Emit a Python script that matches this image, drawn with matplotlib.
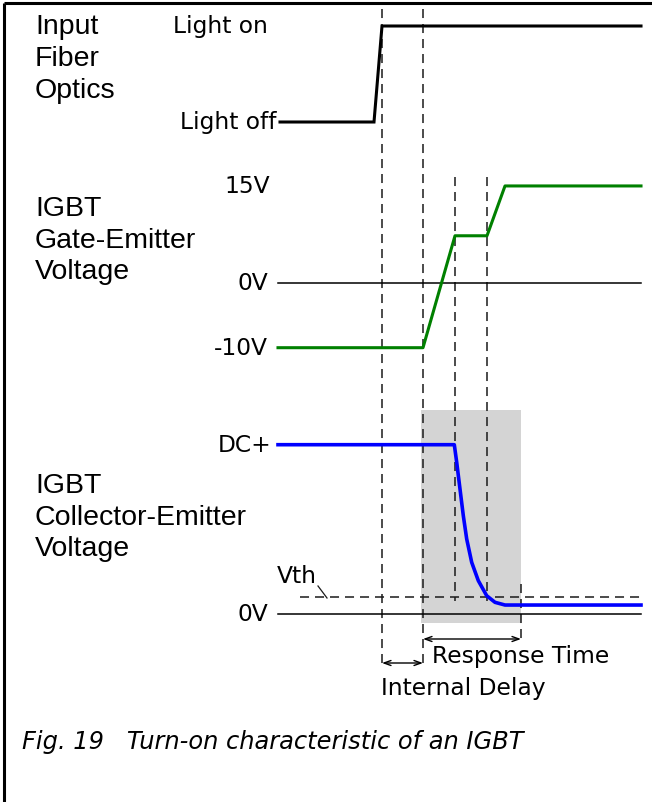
import matplotlib
matplotlib.use("Agg")
import matplotlib.pyplot as plt

plt.rcParams['lines.scale_dashes'] = False

# ---------------- data ----------------
# time axis (arbitrary units, left to right)
fiber_t = [280, 374, 382, 641]
fiber_state = [0, 0, 1, 1]            # 0 = light off, 1 = light on

gate_t = [278, 423, 455, 487, 505, 641]
gate_v = [-10, -10, 7.3, 7.3, 15, 15]  # volts

ce_t = [278, 454.3, 456.7, 460, 463.3, 466.7, 471.7, 478.3, 486.7, 495, 505, 641]
ce_v = [1.0, 1.0, 0.896, 0.738, 0.581, 0.443, 0.305, 0.197, 0.108, 0.069, 0.053, 0.053]
vth_level = 0.10

t_light = 382      # light switched on
t_gate_start = 423 # gate begins to rise
t_plateau_a = 455
t_plateau_b = 487
t_response_end = 521

fiber_labels = ["Light on", "Light off"]
gate_labels = ["15V", "0V", "-10V"]
gate_label_values = [15, 0, -10]
ce_labels = ["DC+", "0V"]
ce_label_values = [1.0, 0.0]

panel_titles = [["Input", "Fiber", "Optics"],
                ["IGBT", "Gate-Emitter", "Voltage"],
                ["IGBT", "Collector-Emitter", "Voltage"]]
caption = "Fig. 19   Turn-on characteristic of an IGBT"

# ---------------- figure ----------------
W, H = 652, 803
fig = plt.figure(figsize=(W / 100, H / 100), dpi=100)

def full_axes(ylim):
    ax = fig.add_axes([0, 0, 1, 1])
    ax.set_xlim(0, W)
    ax.set_ylim(*ylim)
    ax.axis("off")
    ax.patch.set_alpha(0)
    return ax

# overlay axes in pixel units for annotation layout
ax = full_axes((H, 0))
# per-panel axes with their own vertical scales
ax_f = full_axes(((123 - H) / 96, 123 / 96))
ax_g = full_axes(((284 - H) / 6.47, 284 / 6.47))
ax_c = full_axes(((615 - H) / 169.3, 615 / 169.3))

tahoma = ["DejaVu Sans"]
arial = ["Liberation Sans"]
fs_val = 16.8
fs_lab = 20.5
dash = (0, (6.5, 4.3))
dcol = "#1a1a1a"

# frame
ax.plot([4, W], [4, 4], color="black", lw=2.2, solid_capstyle="butt")
ax.plot([4, 4], [4, H], color="black", lw=2.2, solid_capstyle="butt")

# shaded response window
ax.fill_between([t_gate_start - 2, t_response_end], 411, 624, color="#d4d4d4", lw=0, zorder=0)

# vertical dashed guides
for t, y0, y1 in [(t_light, 10, 667), (t_gate_start, 10, 667),
                  (t_plateau_a, 178, 602), (t_plateau_b, 178, 602),
                  (t_response_end, 585, 643)]:
    ax.plot([t, t], [y0, y1], color=dcol, lw=1.1, linestyle=dash, zorder=1)

# reference zero lines
ax_g.plot([278, 641], [0, 0], color="black", lw=1.1)
ax_c.plot([278, 641], [0, 0], color="black", lw=1.1)

# Vth dashed line
ax_c.plot([300, 641], [vth_level, vth_level], color=dcol, lw=1.1, linestyle=dash, zorder=1)

# waveforms
ax_f.plot(fiber_t, fiber_state, color="black", lw=2.2, solid_joinstyle="miter")
ax_g.plot(gate_t, gate_v, color="#008000", lw=2.2)
ax_c.plot(ce_t, ce_v, color="#0000ff", lw=2.6, solid_joinstyle="round")

# level labels
ax_f.text(268, 1, fiber_labels[0], ha="right", va="center", fontsize=fs_val, family=tahoma)
ax_f.text(276, 0, fiber_labels[1], ha="right", va="center", fontsize=fs_val, family=tahoma)
for lab, v, xr in zip(gate_labels, gate_label_values, [270, 268, 268]):
    ax_g.text(xr, v, lab, ha="right", va="center", fontsize=fs_val, family=tahoma)
for lab, v, xr in zip(ce_labels, ce_label_values, [272, 268]):
    ax_c.text(xr, v, lab, ha="right", va="center", fontsize=fs_val, family=tahoma)

# Vth label with leader
ax.text(277, 577, "Vth", ha="left", va="center", fontsize=fs_val, family=tahoma)
ax.plot([318, 327], [587, 599], color=dcol, lw=0.9)

# panel titles
for lines, ys in zip(panel_titles, [[27, 59, 91], [209, 241, 272], [486, 518, 549]]):
    for s, y in zip(lines, ys):
        ax.text(35, y, s, ha="left", va="center", fontsize=fs_lab, family=arial)

# timing arrows
arrow_kw = dict(arrowstyle="<->,head_length=0.5,head_width=0.18", color="black", lw=1.0,
                shrinkA=0, shrinkB=0)
ax.annotate("", xy=(t_gate_start, 640), xytext=(t_response_end, 640), arrowprops=arrow_kw)
ax.annotate("", xy=(t_light, 664), xytext=(t_gate_start, 664), arrowprops=arrow_kw)
ax.text(432, 657, "Response Time", ha="left", va="center", fontsize=fs_val, family=tahoma)
ax.text(381, 689, "Internal Delay", ha="left", va="center", fontsize=fs_val, family=tahoma)

# caption
ax.text(22, 742, caption, ha="left", va="center", fontsize=17.4, family=tahoma, style="italic")

fig.savefig("out.png", dpi=100)
